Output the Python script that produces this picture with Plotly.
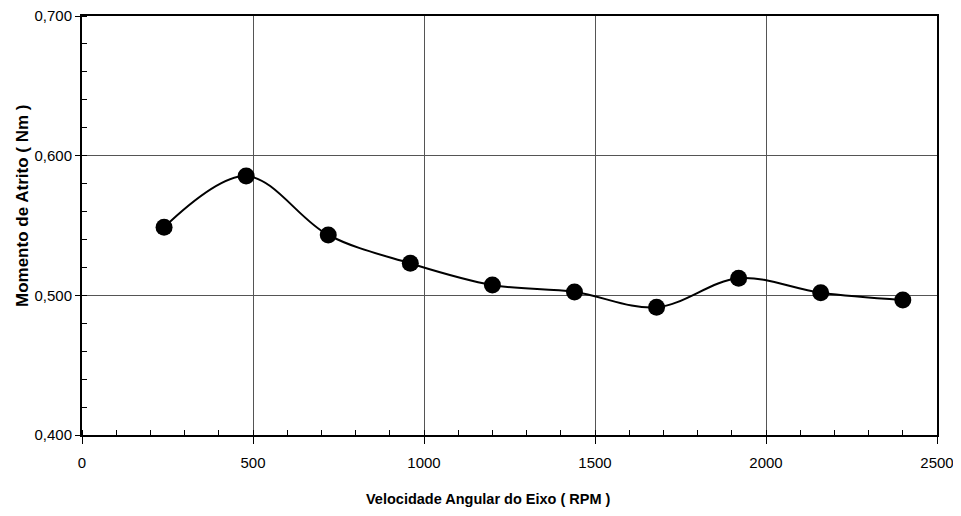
import plotly.graph_objects as go

rpm = [240, 480, 720, 960, 1200, 1440, 1680, 1920, 2160, 2400]
momento = [0.5487, 0.5854, 0.5432, 0.5229, 0.5074, 0.5024, 0.4914, 0.5122, 0.5019, 0.4967]

x_title = "Velocidade Angular do Eixo ( RPM )"
y_title = "Momento de Atrito ( Nm )"

fig = go.Figure()
fig.add_trace(go.Scatter(
    x=rpm, y=momento, mode="lines+markers",
    line=dict(color="black", width=2, shape="spline", smoothing=1.0),
    marker=dict(color="black", size=17, symbol="circle"),
    showlegend=False,
))

font_family = "Liberation Sans, Arial, sans-serif"

fig.update_layout(
    width=961, height=516,
    margin=dict(l=74, r=32, t=8, b=89),
    paper_bgcolor="white", plot_bgcolor="white",
    separators=",.",
    font=dict(family=font_family, size=15, color="black"),
    xaxis=dict(
        range=[0, 2500], dtick=500, tick0=0, automargin=False,
        showline=True, linecolor="black", linewidth=2, mirror=True,
        showgrid=True, gridcolor="#555555", gridwidth=1,
        ticks="outside", ticklen=7, tickcolor="black", tickwidth=1,
        ticklabelstandoff=6, ticklabeloverflow="allow",
        minor=dict(ticks="inside", dtick=100, ticklen=5, tickcolor="black", showgrid=False),
        zeroline=False,
        tickfont=dict(size=15),
    ),
    yaxis=dict(
        range=[0.4, 0.7], dtick=0.1, tick0=0.4, tickformat=".3f", automargin=False,
        showline=True, linecolor="black", linewidth=2, mirror=True,
        showgrid=True, gridcolor="#555555", gridwidth=1,
        ticks="outside", ticklen=5, tickcolor="black", tickwidth=1,
        ticklabeloverflow="allow",
        minor=dict(ticks="inside", dtick=0.02, ticklen=5, tickcolor="black", showgrid=False),
        zeroline=False,
        tickfont=dict(size=15),
    ),
    annotations=[
        dict(text="<b>" + x_title + "</b>", xref="paper", yref="paper",
             x=(488 - 82) / 855, y=-(499 - 435) / 419, xanchor="center", yanchor="middle",
             showarrow=False, font=dict(size=14.5)),
        dict(text="<b>" + y_title + "</b>", xref="paper", yref="paper",
             x=-(82 - 22) / 855, y=(435 - 206) / 419, xanchor="center", yanchor="middle",
             textangle=-90, showarrow=False, font=dict(size=17)),
    ],
)

fig.write_html("out.html")
